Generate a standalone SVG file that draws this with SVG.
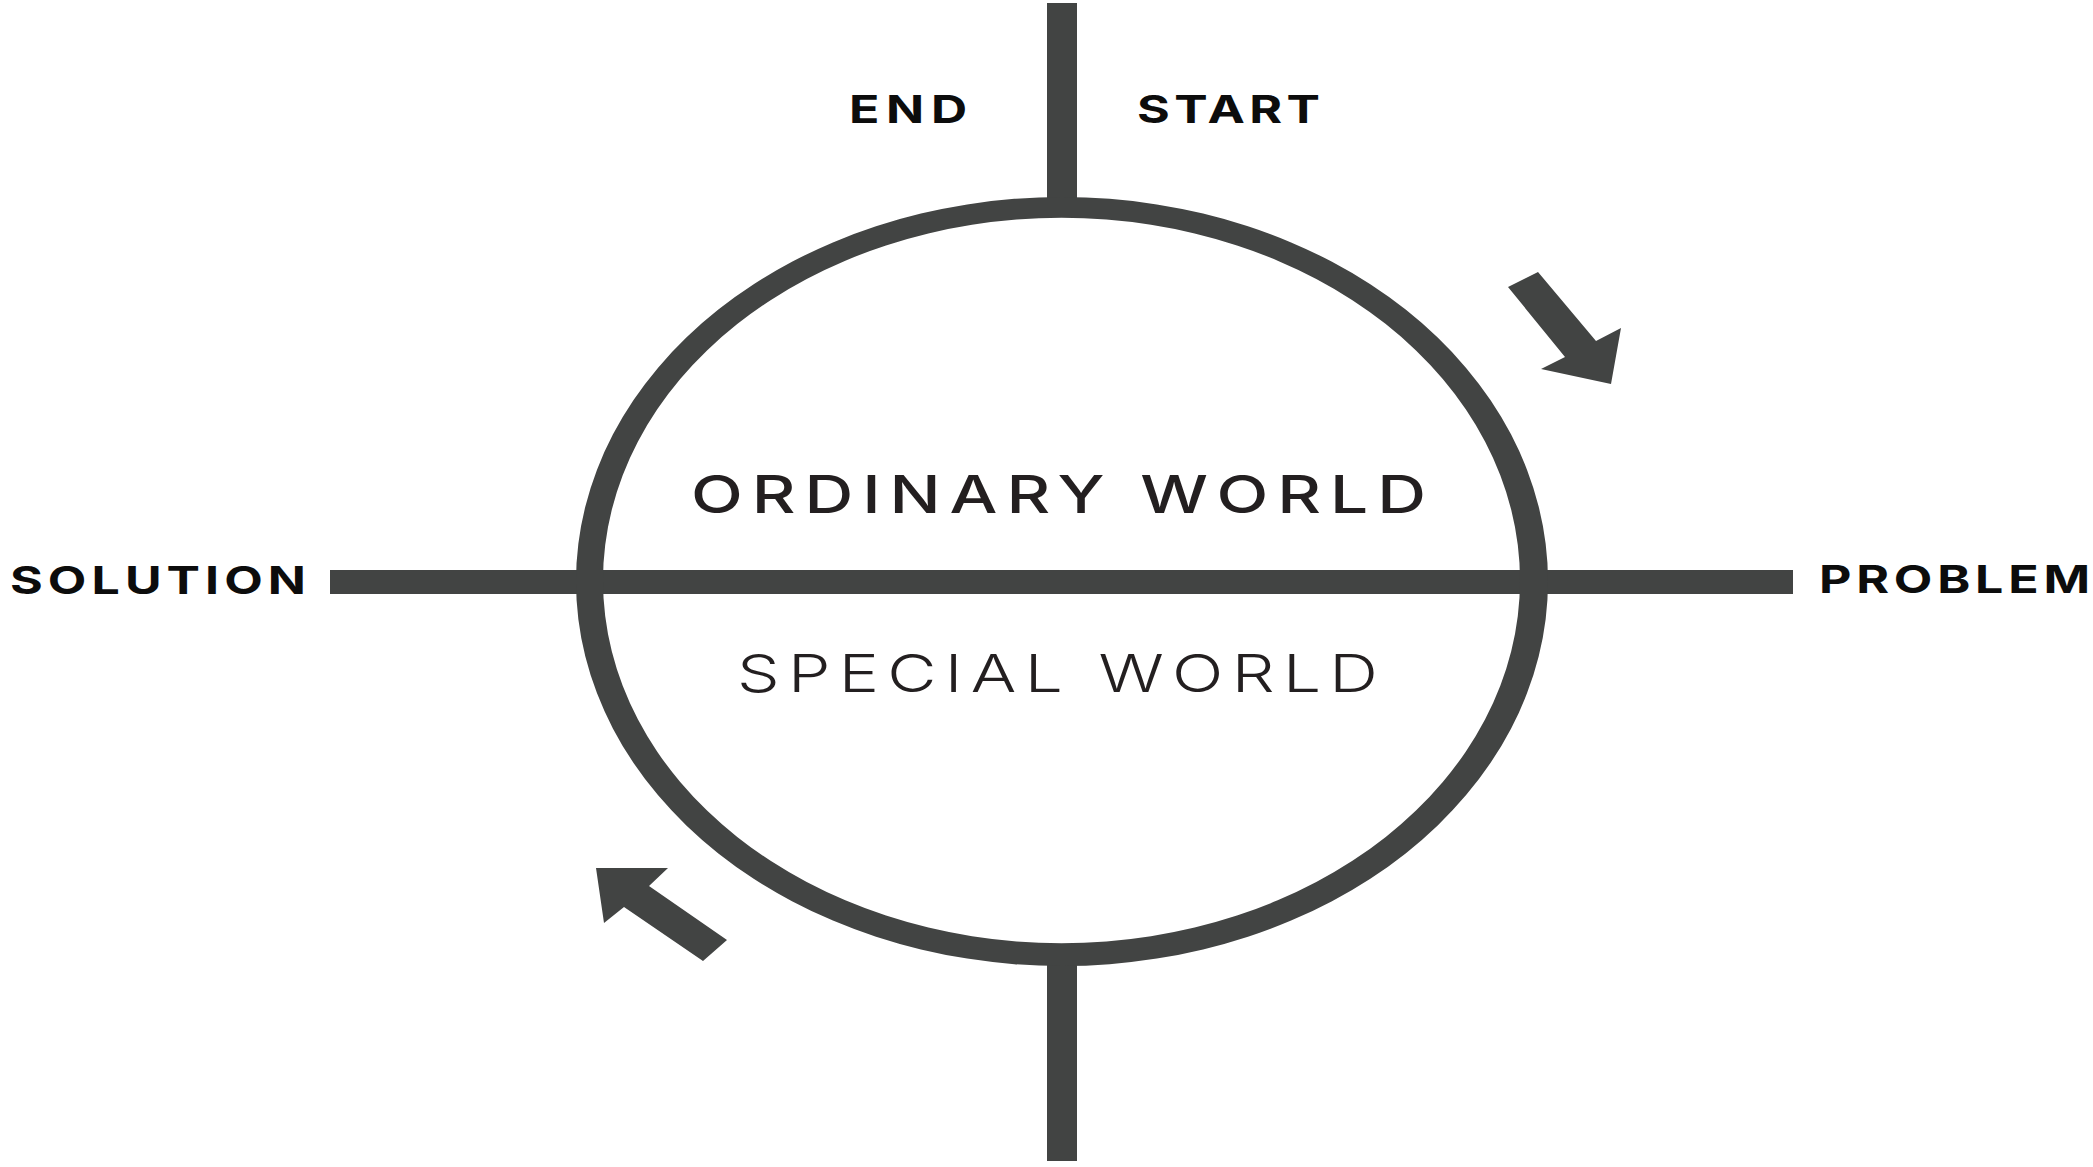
<svg xmlns="http://www.w3.org/2000/svg" width="2093" height="1167" viewBox="0 0 2093 1167">
  <style>
    .ink { fill: #424443; }
    .lbl { font-family: Inter, "Liberation Sans", Arial, sans-serif; font-weight: 700; font-size: 38.5px; fill: #0c0c0c; }
    .big { font-family: Inter, "Liberation Sans", Arial, sans-serif; font-size: 52px; fill: #231f20; }
    .ord { font-weight: 500; }
    .spc { font-weight: 300; }
  </style>
  <rect width="2093" height="1167" fill="#ffffff"/>
  <g id="connectors">
    <rect class="ink" x="1047" y="3" width="30" height="205"/>
    <rect class="ink" x="1047" y="955" width="30" height="206"/>
    <rect class="ink" x="330" y="570" width="1463" height="24"/>
    <polygon id="arrow-down" class="ink" points="1508,287 1538,272 1596,341 1621,328 1611,384 1541,369 1565,357"/>
    <polygon id="arrow-up" class="ink" points="596,868 668,868 649,886 727,940 703,961 624,907 604,923"/>
  </g>
  <g id="cycle">
    <path class="ink" fill-rule="evenodd" d="M576,581.5 A486,384.5 0 1,0 1548,581.5 A486,384.5 0 1,0 576,581.5 Z M603,580.5 A458.5,362.5 0 1,0 1520,580.5 A458.5,362.5 0 1,0 603,580.5 Z"/>
  </g>
  <g id="end" transform="scale(1.3,1)"><text class="lbl" x="653.1" y="123" textLength="90.8" lengthAdjust="spacing">END</text></g>
  <g id="start" transform="scale(1.3,1)"><text class="lbl" x="874.6" y="123" textLength="140.8" lengthAdjust="spacing">START</text></g>
  <g id="solution" transform="scale(1.3,1)"><text class="lbl" x="7.7" y="594" textLength="227.7" lengthAdjust="spacing">SOLUTION</text></g>
  <g id="problem" transform="scale(1.3,1)"><text class="lbl" x="1399.2" y="593" textLength="208.5" lengthAdjust="spacing">PROBLEM</text></g>
  <g id="ordinary-world" transform="scale(1.3,1)"><text class="big ord" x="531.5" y="513" textLength="565.4" lengthAdjust="spacing">ORDINARY WORLD</text></g>
  <g id="special-world" transform="scale(1.3,1)"><text class="big spc" x="566.9" y="692" textLength="493.1" lengthAdjust="spacing">SPECIAL WORLD</text></g>
</svg>
